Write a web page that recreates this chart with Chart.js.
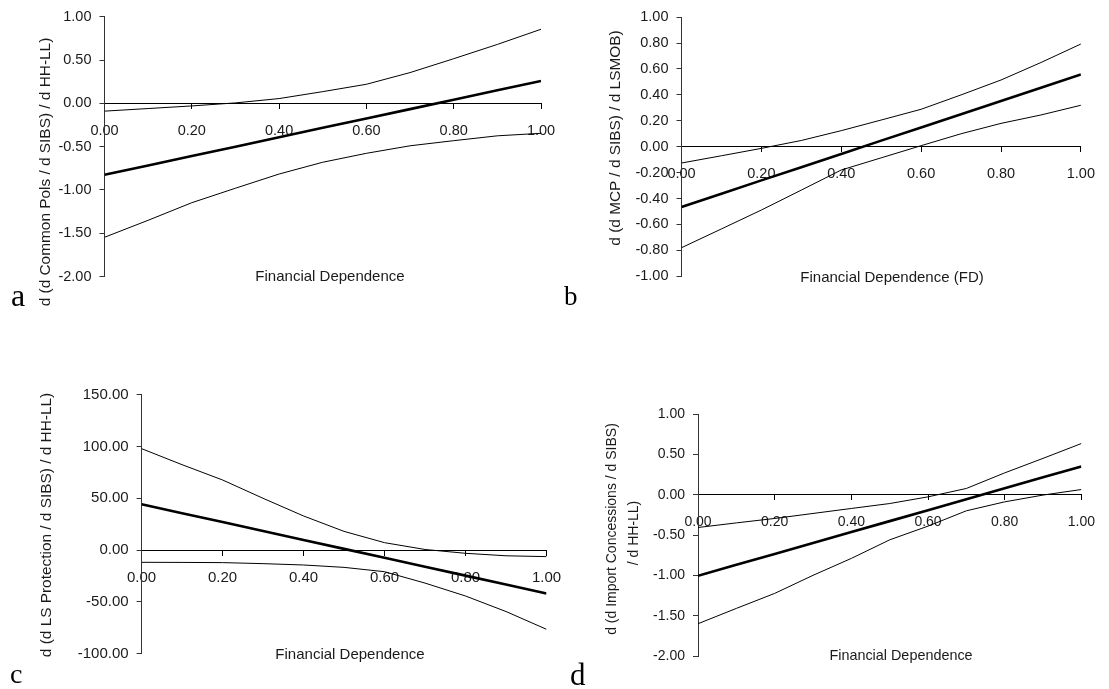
<!DOCTYPE html>
<html>
<head>
<meta charset="utf-8">
<script src="https://cdn.jsdelivr.net/npm/chart.js@4"></script>
<style>
  html, body { margin: 0; padding: 0; background: #fff; }
  #page { position: relative; width: 1109px; height: 689px; overflow: hidden;
          font-family: "Liberation Sans", Arial, sans-serif; color: #1a1a1a; }
  #page canvas { position: absolute; left: 0; top: 0; }
  .t { position: absolute; white-space: nowrap; line-height: 1; transform: translate(-50%, -50%); }
  .yt { transform: translate(-50%, -50%) rotate(-90deg); }
  .tag { position: absolute; line-height: 1; white-space: nowrap; color: #000;
         font-family: "Liberation Serif", "Times New Roman", serif; }
</style>
</head>
<body>
<div id="page">
  <canvas id="chartA" width="1109" height="689"></canvas>
  <canvas id="chartB" width="1109" height="689"></canvas>
  <canvas id="chartC" width="1109" height="689"></canvas>
  <canvas id="chartD" width="1109" height="689"></canvas>

  <div class="t yt" style="left:45px; top:172px; font-size:15.4px;">d (d Common Pols / d SIBS) / d HH-LL)</div>
  <div class="t" style="left:330px; top:275px; font-size:15px;">Financial Dependence</div>
  <div class="tag" style="left:11px; top:279px; font-size:32px;">a</div>

  <div class="t yt" style="left:615px; top:138px; font-size:15.4px;">d (d MCP / d SIBS) / d LSMOB)</div>
  <div class="t" style="left:892px; top:276px; font-size:15px;">Financial Dependence (FD)</div>
  <div class="tag" style="left:564px; top:283px; font-size:27px;">b</div>

  <div class="t yt" style="left:46px; top:525px; font-size:15.4px;">d (d LS Protection / d SIBS) / d HH-LL)</div>
  <div class="t" style="left:350px; top:653px; font-size:15px;">Financial Dependence</div>
  <div class="tag" style="left:10px; top:660px; font-size:28px;">c</div>

  <div class="t yt" style="left:611px; top:529px; font-size:14px;">d (d Import Concessions / d SIBS)</div>
  <div class="t yt" style="left:633px; top:533px; font-size:14px;">/ d HH-LL)</div>
  <div class="t" style="left:901px; top:655px; font-size:14.4px;">Financial Dependence</div>
  <div class="tag" style="left:570px; top:659px; font-size:31px;">d</div>
</div>

<script>
// Financial dependence grid shared by every panel
const fd = [0.0, 0.1, 0.2, 0.3, 0.4, 0.5, 0.6, 0.7, 0.8, 0.9, 1.0];
const fdTicks = [0.0, 0.2, 0.4, 0.6, 0.8, 1.0];

// (a) Common policies
const commonPolsTicks = [1.0, 0.5, 0.0, -0.5, -1.0, -1.5, -2.0];
const commonPolsMid   = [-0.825, -0.717, -0.608, -0.500, -0.392, -0.283, -0.175, -0.067, 0.042, 0.150, 0.258];
const commonPolsUpper = [-0.090, -0.060, -0.030, 0.005, 0.055, 0.135, 0.220, 0.355, 0.515, 0.680, 0.855];
const commonPolsLower = [-1.546, -1.350, -1.147, -0.980, -0.816, -0.680, -0.577, -0.490, -0.431, -0.375, -0.346];

// (b) MCP
const mcpTicks = [1.0, 0.8, 0.6, 0.4, 0.2, 0.0, -0.2, -0.4, -0.6, -0.8, -1.0];
const mcpMid   = [-0.465, -0.363, -0.260, -0.158, -0.056, 0.047, 0.149, 0.251, 0.353, 0.456, 0.558];
const mcpUpper = [-0.126, -0.070, -0.013, 0.048, 0.124, 0.206, 0.289, 0.400, 0.515, 0.650, 0.793];
const mcpLower = [-0.780, -0.635, -0.489, -0.335, -0.180, -0.086, 0.008, 0.100, 0.180, 0.245, 0.320];

// (c) LS protection
const lsProtTicks = [150, 100, 50, 0, -50, -100];
const lsProtMid   = [44.2, 35.6, 27.0, 18.3, 9.7, 1.1, -7.5, -16.1, -24.8, -33.4, -42.0];
const lsProtUpper = [98.0, 82.5, 67.7, 50.0, 32.9, 18.0, 7.1, 0.5, -3.2, -5.6, -6.4];
const lsProtLower = [-11.9, -12.0, -12.2, -13.2, -14.5, -16.8, -21.0, -32.0, -44.5, -59.5, -76.7];

// (d) Import concessions
const importTicks = [1.0, 0.5, 0.0, -0.5, -1.0, -1.5, -2.0];
const importMid   = [-1.005, -0.870, -0.734, -0.599, -0.463, -0.328, -0.192, -0.057, 0.079, 0.215, 0.350];
const importUpper = [-0.407, -0.350, -0.295, -0.233, -0.171, -0.110, -0.027, 0.077, 0.270, 0.450, 0.634];
const importLower = [-1.600, -1.410, -1.224, -1.000, -0.790, -0.560, -0.390, -0.200, -0.089, -0.005, 0.064];

const PAGE_W = 1109, PAGE_H = 689;
const FONT = '"Liberation Sans", Arial, sans-serif';

function fmt(v) {
  const s = Number(v).toFixed(2);
  return s === '-0.00' ? '0.00' : s;
}

function line(values, width) {
  return {
    data: fd.map((x, i) => ({ x: x, y: values[i] })),
    borderColor: '#000',
    borderWidth: width,
    pointRadius: 0,
    tension: 0,
    fill: false
  };
}

function makePanel(id, area, yTicks, mid, upper, lower, tickSize) {
  const yAxisW = 70;
  new Chart(document.getElementById(id), {
    type: 'line',
    data: { datasets: [line(upper, 1), line(lower, 1), line(mid, 2.6)] },
    options: {
      responsive: false,
      animation: false,
      events: [],
      layout: { padding: {
        left: area.x0 - yAxisW, top: area.y0,
        right: PAGE_W - area.x1, bottom: PAGE_H - area.y1 } },
      plugins: { legend: { display: false }, tooltip: { enabled: false } },
      scales: {
        x: {
          type: 'linear', min: 0, max: 1, position: { y: 0 },
          afterBuildTicks: s => { s.ticks = fdTicks.map(v => ({ value: v })); },
          afterFit: s => { s.height = 0; },
          grid: { drawOnChartArea: false, drawTicks: true, tickLength: 5, color: '#000', lineWidth: 1 },
          border: { display: true, color: '#000', width: 1 },
          ticks: { padding: 14, color: '#1a1a1a', autoSkip: false, maxRotation: 0,
                   font: { family: FONT, size: tickSize }, callback: v => fmt(v) }
        },
        y: {
          type: 'linear', min: yTicks[yTicks.length - 1], max: yTicks[0],
          afterBuildTicks: s => { s.ticks = yTicks.map(v => ({ value: v })); },
          afterFit: s => { s.width = yAxisW; },
          grid: { drawOnChartArea: false, drawTicks: true, tickLength: 5, color: '#333', lineWidth: 1 },
          border: { display: true, color: '#333', width: 1 },
          ticks: { padding: 8, color: '#1a1a1a', autoSkip: false,
                   font: { family: FONT, size: tickSize }, callback: v => fmt(v) }
        }
      }
    }
  });
}

makePanel('chartA', { x0: 104.5, x1: 541, y0: 16.6, y1: 276.6 }, commonPolsTicks,
          commonPolsMid, commonPolsUpper, commonPolsLower, 14.5);
makePanel('chartB', { x0: 681.5, x1: 1088, y0: 17.2, y1: 276.2 }, mcpTicks,
          mcpMid, mcpUpper, mcpLower, 14.5);
makePanel('chartC', { x0: 141.6, x1: 546.5, y0: 394.9, y1: 653.4 }, lsProtTicks,
          lsProtMid, lsProtUpper, lsProtLower, 15);
makePanel('chartD', { x0: 698, x1: 1093, y0: 414, y1: 656 }, importTicks,
          importMid, importUpper, importLower, 14);
</script>
</body>
</html>
